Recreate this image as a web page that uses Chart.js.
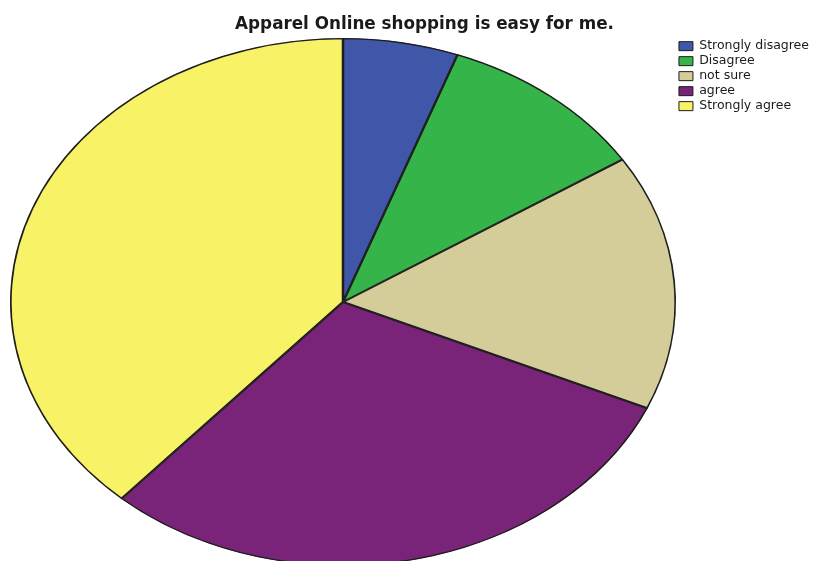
<!DOCTYPE html>
<html lang="en">
<head>
    <meta charset="UTF-8">
    <title>Apparel Online shopping</title>
    <script src="https://cdn.jsdelivr.net/npm/chart.js/dist/chart.umd.min.js"></script>
    <style>
        body {
            margin: 0;
            padding: 0;
            background: #ffffff;
        }
        #chart-container {
            width: 823px;
            height: 561px;
        }
    </style>
</head>
<body>
  <div id="chart-container">
    <canvas id="pieChart"></canvas>
  </div>

  <script>
    // data
    const categories = ['Strongly disagree', 'Disagree', 'not sure', 'agree', 'Strongly agree'];
    const percents = [5.6, 10.3, 15.7, 30.0, 38.4];
    const sliceColors = ['#3f56a9', '#35b549', '#d4cd99', '#7a2479', '#f8f366'];

    // ellipse geometry of the pie (SPSS style flattened pie)
    const pieCenter = { x: 343, y: 302 };
    const radiusY = 264;
    const radiusX = 333;

    // stretch the round pie horizontally into an ellipse
    const ellipsePie = {
      id: 'ellipsePie',
      beforeDatasetsDraw(chart) {
        const arc = chart.getDatasetMeta(0).data[0];
        const ctx = chart.ctx;
        ctx.save();
        ctx.translate(pieCenter.x, pieCenter.y);
        ctx.scale(radiusX / radiusY, 1);
        ctx.translate(-arc.x, -arc.y);
      },
      afterDatasetsDraw(chart) {
        chart.ctx.restore();
      }
    };

    const config = {
      type: 'pie',
      data: {
        labels: categories,
        datasets: [{
          data: percents,
          backgroundColor: sliceColors,
          borderColor: '#1e1e1e',
          borderWidth: 1,
          borderAlign: 'inner',
          radius: radiusY,
          clip: false
        }]
      },
      options: {
        responsive: true,
        maintainAspectRatio: false,
        animation: false,
        events: [],
        // left padding only shifts the title; the pie is placed by ellipsePie
        layout: { padding: { left: 30, right: 4, top: 0, bottom: 0 } },
        plugins: {
          title: {
            display: true,
            text: 'Apparel Online shopping is easy for me.',
            color: '#1a1a1a',
            font: { family: 'DejaVu Sans, Verdana, sans-serif', size: 16.8, weight: 'bold' },
            padding: { top: 15, bottom: 4 }
          },
          legend: {
            position: 'right',
            align: 'start',
            // empty legend title only pushes the items down under the chart title line
            title: {
              display: true,
              text: ' ',
              font: { size: 12 },
              padding: { top: 23, bottom: 0 }
            },
            labels: {
              color: '#1a1a1a',
              font: { family: 'DejaVu Sans, Verdana, sans-serif', size: 12.5 },
              boxWidth: 14,
              boxHeight: 9,
              padding: 2.5
            }
          },
          tooltip: { enabled: false }
        }
      },
      plugins: [ellipsePie]
    };

    const pieChart = new Chart(document.getElementById('pieChart'), config);
  </script>
</body>
</html>
